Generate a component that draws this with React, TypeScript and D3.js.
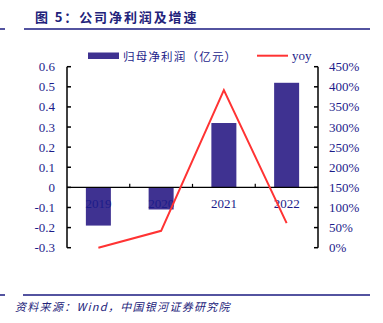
import React from "react";
import * as d3 from "d3";

const categories = ["2019", "2020", "2021", "2022"];
const profit = [-0.19, -0.11, 0.32, 0.52];
const yoy = [0.0, 0.42, 3.92, 0.61];
const leftTicks = [0.6, 0.5, 0.4, 0.3, 0.2, 0.1, 0, -0.1, -0.2, -0.3];
const rightTicks = [4.5, 4.0, 3.5, 3.0, 2.5, 2.0, 1.5, 1.0, 0.5, 0];

const title = "图 5：公司净利润及增速";
const source = "资料来源：Wind，中国银河证券研究院";
const legendBar = "归母净利润（亿元）";
const legendLine = "yoy";

export default function App() {
  const W = 383, H = 323;
  const x0 = 67, x1 = 318, yTop = 66.7, yBot = 247.7;
  const x = d3.scaleBand<string>().domain(categories).range([x0, x1]);
  const yL = d3.scaleLinear().domain([-0.3, 0.6]).range([yBot, yTop]);
  const yR = d3.scaleLinear().domain([0, 4.5]).range([yBot, yTop]);
  const bw = 25;
  const navy = "#1c1c8a";
  const barColor = "#3f3291";
  const line = d3
    .line<number>()
    .x((_, i) => (x(categories[i]) as number) + x.bandwidth() / 2)
    .y((d) => yR(d));
  const pct = d3.format(".0%");
  const serif = "'Liberation Serif', 'DejaVu Serif', serif";
  const cjk = "'Noto Sans CJK SC', sans-serif";
  return (
    <svg
      width={W}
      height={H}
      style={{ position: "absolute", left: 0, top: 0, background: "#fff" }}
    >
      <text x={35} y={22} fontFamily={cjk} fontWeight="bold" fontSize={13} letterSpacing={1.9} fill="#22227a">
        {title}
      </text>
      <line x1={0} x2={5} y1={29} y2={29} stroke="#1a1a80" strokeWidth={1.5} />
      <line x1={24} x2={370} y1={29} y2={29} stroke="#1a1a80" strokeWidth={1.5} />

      {/* legend */}
      <rect x={88} y={52.5} width={31} height={6.5} fill={barColor} />
      <text x={123} y={61} fontFamily={cjk} fontSize={11.5} letterSpacing={1.2} fill={navy}>
        {legendBar}
      </text>
      <line x1={257} x2={288} y1={55.7} y2={55.7} stroke="#ff3333" strokeWidth={2} />
      <text x={292} y={60} fontFamily={serif} fontSize={13} fill={navy}>
        {legendLine}
      </text>

      {/* bars */}
      {categories.map((c, i) => {
        const v = profit[i];
        const cx = (x(c) as number) + x.bandwidth() / 2;
        const y0 = yL(0);
        const yv = yL(v);
        return (
          <rect
            key={c}
            x={cx - bw / 2}
            y={Math.min(y0, yv)}
            width={bw}
            height={Math.abs(yv - y0)}
            fill={barColor}
          />
        );
      })}

      {/* zero line and category ticks */}
      <line x1={x0} x2={x1} y1={yL(0)} y2={yL(0)} stroke="#000" strokeWidth={1.2} />
      {categories.slice(1).map((c) => (
        <line
          key={"t" + c}
          x1={x(c) as number}
          x2={x(c) as number}
          y1={yL(0)}
          y2={yL(0) - 3.5}
          stroke="#000"
          strokeWidth={1.2}
        />
      ))}
      {categories.map((c) => (
        <text
          key={"l" + c}
          x={(x(c) as number) + x.bandwidth() / 2}
          y={208}
          textAnchor="middle"
          fontFamily={serif}
          fontSize={13}
          fill={navy}
        >
          {c}
        </text>
      ))}

      {/* left axis */}
      <line x1={x0} x2={x0} y1={yTop} y2={yBot} stroke="#000" strokeWidth={1.5} />
      {leftTicks.map((t) => (
        <g key={"L" + t}>
          <line x1={x0} x2={x0 + 4} y1={yL(t)} y2={yL(t)} stroke="#000" strokeWidth={1.5} />
          <text
            x={55}
            y={yL(t) + 4.5}
            textAnchor="end"
            fontFamily={serif}
            fontSize={13}
            fill={navy}
          >
            {String(t)}
          </text>
        </g>
      ))}

      {/* right axis */}
      <line x1={x1} x2={x1} y1={yTop} y2={yBot} stroke="#000" strokeWidth={1.5} />
      {rightTicks.map((t) => (
        <g key={"R" + t}>
          <line x1={x1 - 4} x2={x1} y1={yR(t)} y2={yR(t)} stroke="#000" strokeWidth={1.5} />
          <text
            x={329}
            y={yR(t) + 4.5}
            textAnchor="start"
            fontFamily={serif}
            fontSize={13}
            fill={navy}
          >
            {pct(t)}
          </text>
        </g>
      ))}

      {/* yoy line */}
      <path d={line(yoy) as string} fill="none" stroke="#ff3333" strokeWidth={2} />

      {/* footer */}
      <line x1={0} x2={5} y1={295} y2={295} stroke="#1a1a80" strokeWidth={1.5} />
      <line x1={23} x2={370} y1={295} y2={295} stroke="#1a1a80" strokeWidth={1.5} />
      <text
        x={15}
        y={311}
        fontFamily={cjk}
        fontStyle="italic"
        fontSize={11}
        letterSpacing={1.3}
        fill="#22227a"
      >
        {source}
      </text>
    </svg>
  );
}
